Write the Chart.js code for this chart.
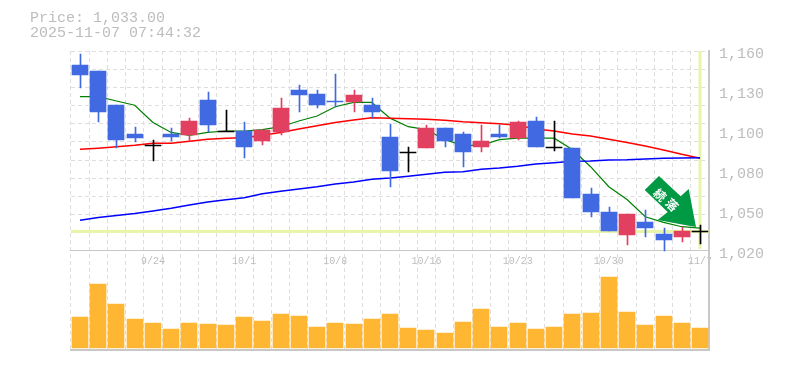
<!DOCTYPE html>
<html>
<head>
<meta charset="utf-8">
<title>Price chart</title>
<script src="https://cdn.jsdelivr.net/npm/chart.js@4"></script>
<style>
    html, body { margin: 0; background: #fff; overflow: hidden; }
    #wrap { position: relative; width: 785px; height: 370px; }
    #info { position: absolute; left: 30px; top: 11px; z-index: 2; font: 15px/15px "Liberation Mono", monospace; color: #bdbdbd; white-space: pre; }
</style>
</head>
<body>
<div id="wrap">
    <div id="info">Price: 1,033.00
2025-11-07 07:44:32</div>
    <canvas id="chart" width="785" height="370"></canvas>
</div>
<script>
const dates = ['9/17','9/18','9/19','9/22','9/24','9/25','9/26','9/29','9/30','10/1','10/2','10/3','10/6','10/7','10/8','10/9','10/10','10/14','10/15','10/16','10/17','10/20','10/21','10/22','10/23','10/24','10/27','10/28','10/29','10/30','10/31','11/4','11/5','11/6','11/7'];
const shownDates = ['9/24','10/1','10/8','10/16','10/23','10/30','11/7'];

const opens  = [1150,1146,1122,1102,1094,1102,1101,1126,1104,1104,1097,1103,1133,1130,1125,1124,1122,1100,1089,1092,1106,1102,1093,1102,1099,1111,1093,1092,1060,1047,1031,1040,1032,1030,1033.7];
const closes = [1143,1117,1098,1099,1094,1100,1111,1108,1104,1093,1105,1120,1129,1122,1124,1129,1117,1076,1089,1106,1097,1089,1097,1100,1110,1093,1093,1057,1047,1034,1046,1036,1028,1034,1033.7];
const highs  = [1158,1146,1122,1107,1098,1106,1113,1131,1119,1110,1105,1127,1136,1133,1144,1133,1127,1109,1093,1108,1106,1103,1108,1108,1111,1114,1111,1092,1064,1051,1046,1049,1036,1037,1038];
const lows   = [1134,1110,1092,1096,1083,1097,1097,1103,1104,1085,1094,1101,1117,1120,1121,1117,1113,1065,1075,1092,1093,1079,1089,1099,1098,1093,1090,1057,1044,1034,1024,1030,1020,1026,1025];

const maShort = [1128,1128,1125,1122,1110,1103,1101,1103,1104,1104,1105,1107,1111,1114.5,1121,1124,1124,1113,1107,1105,1098,1094,1094,1098,1099,1099,1099,1091,1079,1065,1056,1044,1040,1037,1036];
const maMid   = [1091.2,1092,1093,1094,1095.4,1095.4,1096.8,1098.2,1098.9,1099.3,1101,1103,1105.4,1107.7,1110,1111.7,1113.3,1112.9,1112.6,1112.2,1111.5,1110.5,1109.8,1109.1,1108,1105.4,1104,1101.9,1100.5,1098.2,1096,1093.5,1090.7,1087.7,1085];
const maLong  = [1041.5,1043.5,1044.9,1046.3,1048,1049.9,1052.2,1054.3,1055.9,1057.3,1060.1,1061.8,1063.4,1065,1066.9,1068.3,1070.2,1071.1,1072.3,1073.7,1075.1,1075.5,1077.2,1078.1,1079.3,1080.9,1081.8,1082.8,1083,1083.7,1083.9,1084.4,1084.9,1085.1,1085.3];

const volumes = [62,128,88,58,50,38,50,48,46,62,54,68,64,42,50,48,58,68,40,36,30,52,78,42,50,38,42,68,70,142,72,46,64,50,40];

const priceTicks = [1160,1132,1104,1076,1048,1020];
const priceLabels = ['1,160','1,130','1,100','1,080','1,050','1,020'];
const gridPrices = [1160,1147.27,1134.55,1121.82,1109.09,1096.36,1083.64,1070.91,1058.18,1045.45,1032.73];

const lastPrice = 1033.7;
const arrowText = ['続','落'];

const UP = '#e24060', DOWN = '#4169e1', FLAT = '#000000';
const GRID = '#dedede', FRAME = '#c8c8c8', TEXT = '#bdbdbd';

function candleColor(i) {
    if (opens[i] === closes[i]) return FLAT;
    return closes[i] > opens[i] ? UP : DOWN;
}
const colors = dates.map((d, i) => candleColor(i));
const bodies = dates.map((d, i) => [opens[i], closes[i]]);
const wicks = dates.map((d, i) => [lows[i], highs[i]]);

// bars land on whole pixels so the candles stay sharp
const snapBars = {
    id: 'snapBars',
    afterDatasetsUpdate(chart) {
        chart.data.datasets.forEach((ds, n) => {
            if (ds.type !== 'bar') return;
            chart.getDatasetMeta(n).data.forEach(bar => {
                bar.x = Math.round(bar.x) + (ds.barThickness === 1 ? 0.5 : 0);
                bar.y = Math.round(bar.y);
                bar.base = Math.round(bar.base);
                if (bar.base === bar.y) bar.base = bar.y + 1;
            });
        });
    }
};

const overlay = {
    id: 'overlay',
    beforeDatasetsDraw(chart) {
        const ctx = chart.ctx, area = chart.chartArea;
        const x = chart.scales.x.getPixelForValue(dates.length - 1);
        const y = chart.scales.y.getPixelForValue(lastPrice);
        const floor = chart.scales.y.getPixelForValue(1020);

        ctx.save();
        ctx.fillStyle = '#e6f5a8';
        ctx.fillRect(area.left, y - 1.5, area.right - area.left, 3);
        ctx.fillRect(x - 1.5, area.top, 3, floor - 2 - area.top);

        // signal arrow, tip sits just above the last candle
        const tipX = x - 4, tipY = y - 4.5;
        const shape = [[-37,-51],[-51.3,-37],[-28.3,-15],[-38.3,-7],[0,0],[-7.3,-38],[-15.3,-30.6]];
        ctx.fillStyle = '#009944';
        ctx.beginPath();
        shape.forEach((p, i) => i ? ctx.lineTo(tipX + p[0], tipY + p[1]) : ctx.moveTo(tipX + p[0], tipY + p[1]));
        ctx.closePath();
        ctx.fill();

        ctx.fillStyle = '#fff';
        ctx.font = 'bold 12px "Noto Sans CJK JP"';
        ctx.textAlign = 'center';
        ctx.textBaseline = 'middle';
        [[-36,-32],[-24,-22]].forEach((p, i) => {
            ctx.save();
            ctx.translate(tipX + p[0], tipY + p[1]);
            ctx.rotate(44 * Math.PI / 180);
            ctx.fillText(arrowText[i], 0, 0);
            ctx.restore();
        });
        ctx.restore();
    }
};

function lineSet(values, color, width) {
    return { type: 'line', data: values, yAxisID: 'y', borderColor: color, borderWidth: width, pointRadius: 0, tension: 0, fill: false, order: 3 };
}

new Chart(document.getElementById('chart'), {
    data: {
        labels: dates,
        datasets: [
            { type: 'bar', data: volumes, yAxisID: 'vol', backgroundColor: '#ffb733', barThickness: 16, grouped: false, order: 5 },
            lineSet(maLong, '#0000ff', 1.5),
            lineSet(maMid, '#ff0000', 1.5),
            lineSet(maShort, '#008000', 1.2),
            { type: 'bar', data: wicks, yAxisID: 'y', backgroundColor: colors, barThickness: 1, grouped: false, order: 2 },
            { type: 'bar', data: bodies, yAxisID: 'y', backgroundColor: colors, barThickness: 16, grouped: false, order: 1 }
        ]
    },
    plugins: [snapBars, overlay],
    options: {
        responsive: false,
        animation: false,
        layout: { padding: { left: 70.9, top: 51, right: 0, bottom: 20.5 } },
        plugins: { legend: { display: false }, tooltip: { enabled: false } },
        scales: {
            x: {
                position: { y: 1020 },
                afterFit: s => { s.height = 0; },
                offset: true,
                grid: { color: GRID, drawTicks: false, offset: true },
                border: { color: FRAME, width: 1, dash: [4, 3] },
                ticks: {
                    autoSkip: false, maxRotation: 0, padding: 4,
                    color: TEXT, font: { family: '"Liberation Mono"', size: 10 },
                    callback(v) { const d = dates[v]; return shownDates.includes(d) ? d : ''; }
                }
            },
            xFrame: {
                type: 'category', position: 'bottom', labels: dates, offset: true,
                afterFit: s => { s.height = 0; },
                grid: { display: false },
                ticks: { display: false },
                border: { color: FRAME, width: 2 }
            },
            y: {
                position: 'right', min: 951.05, max: 1160,
                afterFit: s => { s.width = 75.9; },
                afterBuildTicks: s => { s.ticks = priceTicks.map(v => ({ value: v })); },
                grid: { display: false },
                border: { color: FRAME, width: 2 },
                ticks: {
                    autoSkip: false, padding: 2, labelOffset: 3,
                    color: TEXT, font: { family: '"Liberation Mono"', size: 15 },
                    callback(v, i) { return priceLabels[i]; }
                }
            },
            yGrid: {
                position: 'left', min: 951.05, max: 1160,
                afterFit: s => { s.width = 0; },
                afterBuildTicks: s => { s.ticks = gridPrices.map(v => ({ value: v })); },
                grid: { color: GRID, drawTicks: false },
                border: { display: false, dash: [4, 3] },
                ticks: { display: false }
            },
            vol: { display: false, min: -3, max: 594 }
        }
    }
});
</script>
</body>
</html>
